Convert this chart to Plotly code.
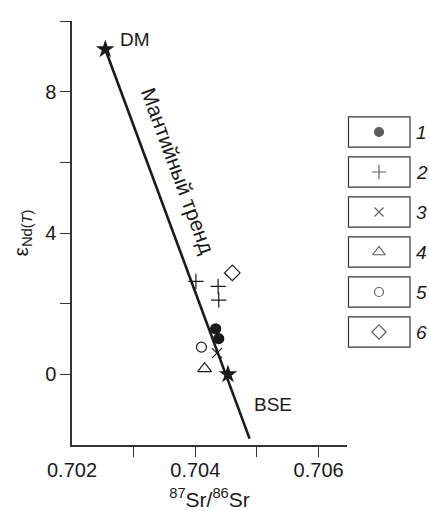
import plotly.graph_objects as go

# ---- data ----
line_x = [0.70254, 0.70488]
line_y = [9.20, -1.82]

star_names = ["DM", "BSE"]
star_x = [0.70254, 0.70453]
star_y = [9.20, 0.00]

g1_x = [0.70433, 0.70438]; g1_y = [1.29, 1.01]
g2_x = [0.70401, 0.70437, 0.70438]; g2_y = [2.63, 2.49, 2.10]
g3_x = [0.70435]; g3_y = [0.60]
g4_x = [0.70415]; g4_y = [0.16]
g5_x = [0.70410]; g5_y = [0.77]
g6_x = [0.70460]; g6_y = [2.87]

legend_labels = ["1", "2", "3", "4", "5", "6"]
legend_symbols = ["circle", "cross-thin-open", "x-thin-open", "triangle-up-open", "circle-open", "diamond-open"]
legend_sizes = [10, 11, 10, 12, 10, 12]

x_tickvals = [0.702, 0.704, 0.706]
x_minor = [0.703, 0.704, 0.705, 0.706]
y_tickvals = [0, 2, 4, 6, 8, 10]
y_ticktext = ["0", "", "4", "", "8", ""]

FONT = "Liberation Sans, Arial, sans-serif"
INK = "#1a1a1a"
AX = "#333333"

fig = go.Figure()

fig.add_trace(go.Scatter(x=line_x, y=line_y, mode="lines",
                         line=dict(color=INK, width=2.6), showlegend=False, hoverinfo="skip"))

groups = [(g1_x, g1_y), (g2_x, g2_y), (g3_x, g3_y), (g4_x, g4_y), (g5_x, g5_y), (g6_x, g6_y)]
for (gx, gy), sym, sz in zip(groups, legend_symbols, legend_sizes):
    fig.add_trace(go.Scatter(x=gx, y=gy, mode="markers", showlegend=False,
                             marker=dict(symbol=sym, size=sz, color=INK,
                                         line=dict(color=INK, width=1.2))))

fig.add_trace(go.Scatter(x=star_x, y=star_y, mode="markers", showlegend=False,
                         marker=dict(symbol="star", size=14, color=INK, line=dict(width=0))))

# labels
fig.add_annotation(x=star_x[0], y=star_y[0], text="DM", showarrow=False, xanchor="left",
                   yanchor="middle", xshift=13, yshift=10, font=dict(size=19, color=INK, family=FONT))
fig.add_annotation(x=star_x[1], y=star_y[1], text="BSE", showarrow=False, xanchor="left",
                   yanchor="middle", xshift=24, yshift=-30, font=dict(size=19, color=INK, family=FONT))
fig.add_annotation(x=0.70372, y=5.78, text="Мантийный тренд", showarrow=False, textangle=69.7,
                   font=dict(size=21, color=INK, family=FONT))

# legend on a side axis
leg_idx = list(range(1, len(legend_labels) + 1))
for i, lab, sym, sz in zip(leg_idx, legend_labels, legend_symbols, legend_sizes):
    fig.add_shape(type="rect", xref="x2", yref="y2", x0=1.5, x1=63, y0=i - 0.38, y1=i + 0.38,
                  line=dict(color=AX, width=1.2))
    fig.add_annotation(xref="x2", yref="y2", x=67, y=i, text="<i>" + lab + "</i>", showarrow=False,
                       xanchor="left", yanchor="middle", font=dict(size=19, color=INK, family=FONT))
fig.add_trace(go.Scatter(x=[32] * len(leg_idx), y=leg_idx, mode="markers", xaxis="x2", yaxis="y2",
                         showlegend=False,
                         marker=dict(symbol=legend_symbols, size=[s - 1 for s in legend_sizes], color=INK,
                                     line=dict(color=INK, width=1.2))))

dom = 275 / 357
fig.update_layout(
    width=429, height=511,
    margin=dict(l=72, r=0, t=21, b=66, pad=0),
    paper_bgcolor="white", plot_bgcolor="white",
    font=dict(family=FONT, size=19, color=INK),
    xaxis=dict(domain=[0, dom], range=[0.702, 0.70646], tickvals=x_tickvals,
               ticktext=["0.702", "0.704", "0.706"], ticks="", ticklabelstandoff=6,
               tickfont=dict(size=20),
               minor=dict(tickmode="array", tickvals=x_minor, ticks="outside", ticklen=10,
                          tickwidth=1.4, tickcolor=AX, showgrid=False),
               showline=True, linecolor=AX, linewidth=1.5, showgrid=False, zeroline=False,
               title=dict(text="<sup>87</sup>Sr/<sup>86</sup>Sr", standoff=14, font=dict(size=21))),
    yaxis=dict(range=[-2, 10], tickvals=y_tickvals, ticktext=y_ticktext, ticks="outside",
               ticklen=10, tickwidth=1.4, tickcolor=AX, tickfont=dict(size=20),
               showline=True, linecolor=AX, linewidth=1.5, showgrid=False, zeroline=False,
               title=dict(text="ε<sub>Nd(<i>T</i>)</sub>", standoff=11, font=dict(size=21))),
    xaxis2=dict(domain=[dom, 1], range=[0, 82], visible=False, anchor="y2"),
    yaxis2=dict(domain=[0, 1], range=[8.825, -1.775], visible=False, anchor="x2"),
)

fig.write_html("out.html")
